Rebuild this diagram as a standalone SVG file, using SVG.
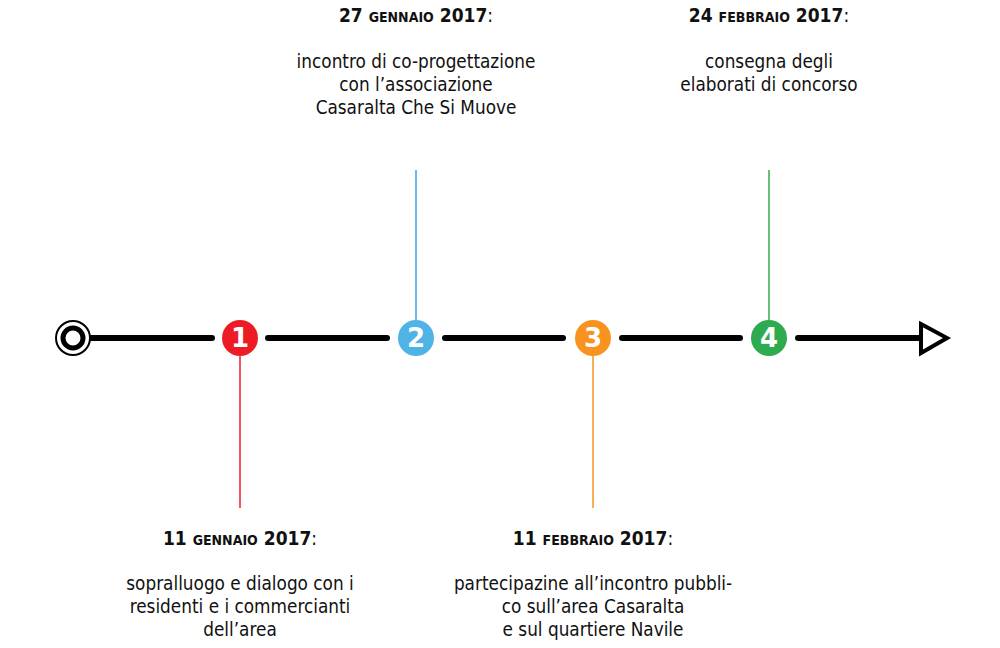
<svg xmlns="http://www.w3.org/2000/svg" width="1000" height="648" viewBox="0 0 1000 648">
<style>
.seg{stroke:#000;stroke-width:6;stroke-linecap:round;fill:none}
.t{font-family:"DejaVu Sans Condensed","DejaVu Sans",sans-serif;font-size:18.8px;fill:#111;text-anchor:middle}
.d{font-family:"DejaVu Sans Condensed","DejaVu Sans",sans-serif;font-size:19px;font-weight:bold;fill:#111;text-anchor:middle}
.sc{font-size:14px}
.n{font-weight:normal}
.num{font-family:"DejaVu Sans",sans-serif;font-size:26px;font-weight:bold;fill:#fff;text-anchor:middle}
</style>
<rect width="1000" height="648" fill="#fff"/>
<g id="connectors">
<line class="seg" x1="73" y1="338" x2="212" y2="338"/>
<line class="seg" x1="268" y1="338" x2="387" y2="338"/>
<line class="seg" x1="445" y1="338" x2="563" y2="338"/>
<line class="seg" x1="622" y1="338" x2="740" y2="338"/>
<line class="seg" x1="798" y1="338" x2="922" y2="338"/>
<line x1="240" y1="356" x2="240" y2="508" stroke="#ED1C24" stroke-width="1.5"/>
<line x1="416" y1="170" x2="416" y2="320" stroke="#29ABE2" stroke-width="1.5"/>
<line x1="593" y1="356" x2="593" y2="508" stroke="#F7931E" stroke-width="1.5"/>
<line x1="769" y1="170" x2="769" y2="320" stroke="#39A94F" stroke-width="1.5"/>
</g>
<g id="start">
<circle cx="73" cy="338" r="17" fill="#fff" stroke="#000" stroke-width="2"/>
<circle cx="73" cy="338" r="10" fill="#fff" stroke="#000" stroke-width="5"/>
</g>
<g id="end">
<polygon points="921,324 947,338 921,353" fill="#fff" stroke="#000" stroke-width="4" stroke-linejoin="miter"/>
</g>
<g id="node1">
<circle cx="240" cy="338" r="18" fill="#ED1C24"/>
<text class="num" x="240" y="347">1</text>
</g>
<g id="node2">
<circle cx="416" cy="338" r="18" fill="#4FB3E6"/>
<text class="num" x="416" y="347">2</text>
</g>
<g id="node3">
<circle cx="593" cy="338" r="18" fill="#F7931E"/>
<text class="num" x="593" y="347">3</text>
</g>
<g id="node4">
<circle cx="769" cy="338" r="18" fill="#2EAA4F"/>
<text class="num" x="769" y="347">4</text>
</g>
<g id="label2">
<text class="d" x="416" y="22">27 <tspan class="sc">GENNAIO</tspan> 2017<tspan class="n">:</tspan></text>
<text class="t" x="416" y="68">incontro di co-progettazione</text>
<text class="t" x="416" y="91">con l’associazione</text>
<text class="t" x="416" y="114">Casaralta Che Si Muove</text>
</g>
<g id="label4">
<text class="d" x="769" y="22">24 <tspan class="sc">FEBBRAIO</tspan> 2017<tspan class="n">:</tspan></text>
<text class="t" x="769" y="68">consegna degli</text>
<text class="t" x="769" y="91">elaborati di concorso</text>
</g>
<g id="label1">
<text class="d" x="240" y="545">11 <tspan class="sc">GENNAIO</tspan> 2017<tspan class="n">:</tspan></text>
<text class="t" x="240" y="590">sopralluogo e dialogo con i</text>
<text class="t" x="240" y="613">residenti e i commercianti</text>
<text class="t" x="240" y="636">dell’area</text>
</g>
<g id="label3">
<text class="d" x="593" y="545">11 <tspan class="sc">FEBBRAIO</tspan> 2017<tspan class="n">:</tspan></text>
<text class="t" x="593" y="590">partecipazine all’incontro pubbli-</text>
<text class="t" x="593" y="613">co sull’area Casaralta</text>
<text class="t" x="593" y="636">e sul quartiere Navile</text>
</g>
</svg>
